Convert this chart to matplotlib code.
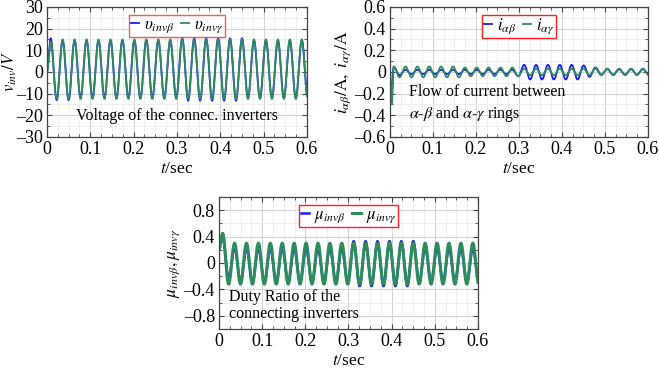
import numpy as np
import matplotlib
matplotlib.use("Agg")
import matplotlib.pyplot as plt
from matplotlib.ticker import MultipleLocator, FuncFormatter

# ─────────────────────────────────────────────
# Data
# ─────────────────────────────────────────────

T_FIRST_PEAK = 0.0085    # s, time of first crest
PERIOD       = 0.0276    # s, crest-to-crest spacing

# inverter voltages (V): crest and trough value of each cycle
v_beta_pk  = [15.5, 14.5, 14.5, 14.5, 14.5, 14.5, 14.5, 14.5, 14.5, 14.5, 14.5,
              15.5, 15.5, 15.5, 15.5, 15.5, 15.5, 14.5, 14.5, 14.5, 14.5, 14.5]
v_beta_tr  = [-13.0, -13.0, -12.0, -12.0, -12.0, -12.0, -12.0, -12.0, -12.0, -12.0, -12.0,
              -13.3, -13.3, -13.3, -13.3, -13.3, -12.0, -12.0, -12.0, -12.0, -12.0, -12.0]
v_gamma_pk = [14.0, 15.0, 15.0, 15.0, 15.0, 15.0, 15.0, 15.0, 15.0, 15.0, 15.0,
              15.0, 15.0, 15.0, 15.0, 15.0, 15.0, 15.0, 15.0, 15.0, 15.0, 15.0]
v_gamma_tr = [-12.5] * 22

# ring currents (A)
i_beta_pk  = [0.045, 0.02, 0.02, 0.02, 0.02, 0.02, 0.02, 0.02, 0.02, 0.02, 0.02,
              0.065, 0.065, 0.065, 0.065, 0.065, 0.06, 0.04, 0.025, 0.025, 0.025, 0.025]
i_beta_tr  = [-0.03, -0.02, -0.02, -0.02, -0.02, -0.02, -0.02, -0.02, -0.02, -0.02, -0.04,
              -0.07, -0.07, -0.07, -0.07, -0.07, -0.045, -0.025, -0.025, -0.025, -0.025, -0.025]
i_gamma_pk = [0.05, 0.05, 0.05, 0.05, 0.05, 0.05, 0.04, 0.04, 0.04, 0.04, 0.04,
              0.03, 0.03, 0.03, 0.03, 0.03, 0.03, 0.03, 0.03, 0.03, 0.03, 0.03]
i_gamma_tr = [-0.05, -0.05, -0.05, -0.05, -0.05, -0.05, -0.04, -0.04, -0.04, -0.04, -0.04,
              -0.03, -0.03, -0.03, -0.03, -0.03, -0.03, -0.03, -0.03, -0.03, -0.03, -0.03]
i_beta_start  = [(0.0, 0.0), (0.003, -0.28)]
i_gamma_start = [(0.0, 0.0), (0.004, -0.30)]

# duty ratios
mu_beta_pk  = [0.38, 0.22, 0.22, 0.22, 0.22, 0.22, 0.22, 0.22, 0.22, 0.22, 0.22,
               0.33, 0.33, 0.33, 0.33, 0.33, 0.33, 0.22, 0.22, 0.22, 0.22, 0.22]
mu_beta_tr  = [-0.22, -0.28, -0.28, -0.28, -0.28, -0.28, -0.28, -0.28, -0.28, -0.28, -0.28,
               -0.35, -0.35, -0.35, -0.35, -0.35, -0.28, -0.28, -0.28, -0.28, -0.28, -0.28]
mu_gamma_pk = [0.45] + [0.30] * 21
mu_gamma_tr = [-0.32] * 22


# ─────────────────────────────────────────────
# Helpers
# ─────────────────────────────────────────────

def build_wave(peaks, troughs, start=((0.0, 0.0),), n=30):
    """Join crest/trough values with half-cosine segments."""
    tk = [p[0] for p in start]
    vk = [p[1] for p in start]
    for k, (pk, tr) in enumerate(zip(peaks, troughs)):
        tk += [T_FIRST_PEAK + k * PERIOD, T_FIRST_PEAK + (k + 0.5) * PERIOD]
        vk += [pk, tr]
    t_out, v_out = [], []
    for i in range(len(tk) - 1):
        s = np.linspace(0, 1, n, endpoint=False)
        t_out.append(tk[i] + (tk[i + 1] - tk[i]) * s)
        v_out.append(vk[i] + (vk[i + 1] - vk[i]) * (1 - np.cos(np.pi * s)) / 2)
    return np.concatenate(t_out), np.concatenate(v_out)


def tick_fmt(x, pos):
    s = f"{x:g}"
    if s in ("-0", "0.0"):
        s = "0"
    return s.replace("-", "\u2013")


def style_axes(ax, xmaj, xmin, ymaj, ymin):
    ax.xaxis.set_major_locator(MultipleLocator(xmaj))
    ax.xaxis.set_minor_locator(MultipleLocator(xmin))
    ax.yaxis.set_major_locator(MultipleLocator(ymaj))
    ax.yaxis.set_minor_locator(MultipleLocator(ymin))
    ax.xaxis.set_major_formatter(FuncFormatter(tick_fmt))
    ax.yaxis.set_major_formatter(FuncFormatter(tick_fmt))
    ax.grid(which="major", color="#d4d4d4", lw=0.8)
    ax.grid(which="minor", color="#ececec", lw=0.6)
    ax.set_axisbelow(True)
    ax.tick_params(which="both", direction="in", top=True, right=True,
                   labelsize=13, color="#444444", pad=3)
    ax.tick_params(which="major", length=3.5)
    ax.tick_params(which="minor", length=2)
    for sp in ax.spines.values():
        sp.set_color("#444444")
        sp.set_linewidth(0.9)
    ax.set_xlim(0, 0.6)
    ax.set_xlabel(r"$t$/sec", fontsize=12.5, labelpad=2)


def add_legend(ax, edge):
    leg = ax.legend(loc="upper center", ncol=2, fontsize=12, handlelength=0.5,
                    handletextpad=0.3, columnspacing=0.4, borderpad=0.1,
                    fancybox=False, framealpha=1, borderaxespad=0.5)
    leg.get_frame().set_edgecolor(edge)
    leg.get_frame().set_linewidth(1.0)


# ─────────────────────────────────────────────
# Figure
# ─────────────────────────────────────────────

plt.rcParams["font.family"] = ["Liberation Serif", "DejaVu Serif"]
plt.rcParams["mathtext.fontset"] = "stix"

BLUE  = "#1a1aff"
GREEN = "#2e8b5c"

fig = plt.figure(figsize=(6.59, 3.68), dpi=100)
ax1 = fig.add_axes([0.0713, 0.628, 0.3945, 0.3533])
ax2 = fig.add_axes([0.5918, 0.628, 0.3915, 0.3533])
ax3 = fig.add_axes([0.3323, 0.106, 0.3930, 0.3587])

# voltages
t, v = build_wave(v_beta_pk, v_beta_tr)
ax1.plot(t, v, color=BLUE, lw=1.3, label=r"$\upsilon_{inv\beta}$")
t, v = build_wave(v_gamma_pk, v_gamma_tr)
ax1.plot(t, v, color=GREEN, lw=1.3, label=r"$\upsilon_{inv\gamma}$")
style_axes(ax1, 0.1, 0.025, 10, 5)
ax1.set_ylim(-30, 30)
ax1.set_ylabel(r"$v_{inv}/V$", fontsize=12, labelpad=-2)
ax1.text(0.5, 0.1, "Voltage of the connec. inverters", transform=ax1.transAxes,
         ha="center", va="bottom", fontsize=11.5)
add_legend(ax1, "#e86060")

# currents
t, v = build_wave(i_beta_pk, i_beta_tr, start=i_beta_start)
ax2.plot(t, v, color=BLUE, lw=1.3, label=r"$i_{\alpha\beta}$")
t, v = build_wave(i_gamma_pk, i_gamma_tr, start=i_gamma_start)
ax2.plot(t, v, color=GREEN, lw=1.3, label=r"$i_{\alpha\gamma}$")
style_axes(ax2, 0.1, 0.025, 0.2, 0.1)
ax2.set_ylim(-0.6, 0.6)
ax2.set_ylabel(r"$i_{\alpha\beta}/\mathrm{A},\ i_{\alpha\gamma}/\mathrm{A}$",
               fontsize=12.5, labelpad=1)
ax2.text(0.075, 0.1, "Flow of current between\n"
         r"$\alpha$-$\beta$ and $\alpha$-$\gamma$ rings",
         transform=ax2.transAxes, ha="left", va="bottom", fontsize=11.5,
         linespacing=1.3)
add_legend(ax2, "#ff2020")

# duty ratios
t, v = build_wave(mu_beta_pk, mu_beta_tr, start=((0.0, 0.25),))
ax3.plot(t, v, color=BLUE, lw=1.8, label=r"$\mu_{inv\beta}$")
t, v = build_wave(mu_gamma_pk, mu_gamma_tr, start=((0.0, 0.2),))
ax3.plot(t, v, color=GREEN, lw=2.2, label=r"$\mu_{inv\gamma}$")
style_axes(ax3, 0.1, 0.025, 0.4, 0.2)
ax3.set_ylim(-1, 1)
ax3.set_ylabel(r"$\mu_{inv\beta}, \mu_{inv\gamma}$", fontsize=12.5, labelpad=1)
ax3.text(0.04, 0.05, "Duty Ratio of the\nconnecting inverters",
         transform=ax3.transAxes, ha="left", va="bottom", fontsize=11.5,
         linespacing=1.15)
add_legend(ax3, "#ff2020")

fig.savefig("out.png", dpi=100)
